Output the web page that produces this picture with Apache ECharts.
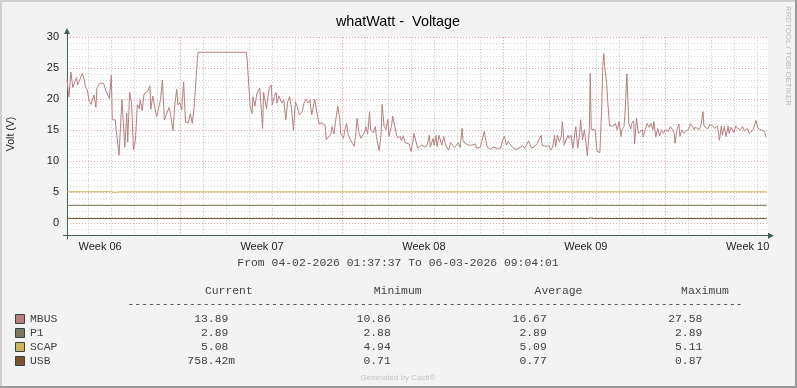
<!DOCTYPE html>
<html><head><meta charset="utf-8">
<script src="https://cdn.jsdelivr.net/npm/echarts@6/dist/echarts.min.js"></script>
<style>html,body{margin:0;padding:0;background:#f3f3f3}#c{width:797px;height:388px}</style>
</head><body><div id="c"></div>
<script>
// ---- data (hours since 04-02-2026 01:37:37) ----
const mbusHours = [0,2,4,6,8,10,11,13,16,18,19,21,23,25,28,30,31,34,38,40,43,44,46,47,50,51,54,57,59,60,62,63,65,67,69,71,73,75,76,78,80,82,84,86,87,89,91,93,95,97,99,101,103,106,107,110,112,114,115,117,119,121,123,126,128,130,132,134,135,136,
186,187,189,190,192,193,195,197,199,200,203,204,207,208,210,212,213,215,217,218,220,222,223,225,227,229,231,233,235,237,239,241,244,246,248,250,252,254,257,258,260,262,265,268,269,272,274,275,277,279,281,283,284,287,288,290,292,294,296,298,300,301,303,305,307,309,310,312,314,315,318,320,321,324,326,327,329,331,333,334,337,338,340,342,343,346,347,349,351,353,355,357,359,360,362,364,366,368,370,372,374,376,377,380,381,383,384,386,388,389,391,393,395,396,398,400,402,404,406,408,410,411,413,415,417,420,422,424,425,427,429,431,433,436,438,440,442,444,446,448,450,452,454,456,458,460,462,464,466,468,
470,473,475,477,479,480,482,484,486,488,489,492,493,495,497,498,500,502,504,506,507,509,511,513,514,516,518,520,521,523,525,526,528,530,532,533,535,537,539,540,542,543,544,546,548,550,553,555,556,557,558,560,561,563,565,567,569,571,573,575,576,578,579,581,583,585,586,588,589,591,593,595,597,598,600,602,604,606,608,609,611,613,615,617,619,621,623,624,626,628,630,631,633,635,636,638,640,642,644,645,647,649,651,652,654,656,658,660,661,663,665,667,668,670,672,673,675,677,679,680,682,684,686,687,689,691,692,694,696,698,699,701,703,705,706,708,710,712,713,715,717,718,720,722,724,725,726];
const mbusVolts = [23.2,20.4,24.4,21.9,22.8,23.5,22.3,22.3,24.2,23.1,22.1,21.5,19.7,19.2,20.7,18.7,21.8,22.6,22.6,21.5,20.5,20.1,23.9,16.7,16.7,15.1,11.0,20.0,20.2,12.3,17.8,13.1,21.1,19.4,11.8,13.4,19.1,18.5,19.9,18.2,20.9,20.7,21.3,22.2,18.4,20.5,20.5,17.2,17.2,19.9,23.1,16.7,16.8,18.7,18.0,14.9,19.4,21.6,19.1,19.5,18.3,22.8,16.3,16.2,17.7,16.1,18.8,23.5,25.8,27.58,
27.58,26.3,26.0,18.9,17.7,20.4,18.9,20.9,21.2,21.8,15.3,21.1,18.5,19.9,21.8,22.3,19.1,20.4,21.1,19.4,20.5,20.2,19.4,19.9,16.7,19.6,20.4,18.5,15.0,19.6,18.8,17.5,18.0,19.4,20.0,19.4,19.9,17.5,20.0,19.9,17.2,16.0,16.2,15.7,13.5,14.0,14.5,15.6,14.4,16.8,18.9,16.9,14.5,13.7,14.8,16.1,14.2,14.0,12.9,12.4,14.8,16.9,14.6,13.7,14.2,14.8,15.6,14.4,18.0,15.1,14.6,15.6,14.0,11.7,14.5,19.2,15.7,15.1,16.8,14.0,15.9,17.3,17.3,14.2,13.8,14.0,13.3,14.1,13.0,13.0,12.8,11.6,13.2,14.5,14.2,12.1,11.8,12.6,12.8,12.3,12.8,14.2,12.3,13.7,12.6,14.2,12.4,14.2,14.2,12.6,14.0,12.6,12.6,11.8,13.0,12.6,12.2,12.6,13.0,12.2,15.3,13.4,12.9,12.8,12.6,12.6,12.4,12.8,12.1,11.9,12.3,12.6,14.8,12.3,12.1,11.9,12.3,12.4,12.1,12.4,12.1,13.4,14.0,12.6,13.2,13.0,12.3,12.1,11.9,12.1,
12.2,12.5,12.1,12.4,13.3,13.3,12.1,11.9,12.5,12.9,12.8,14.2,12.6,12.9,12.4,12.1,12.5,11.8,12.3,14.2,12.3,14.2,13.2,14.1,16.4,12.6,13.5,14.2,13.7,14.2,12.1,12.4,15.6,12.1,14.5,16.7,13.5,15.1,15.1,10.86,15.1,24.2,15.1,15.1,15.1,11.6,11.4,19.4,25.3,27.4,25.3,22.6,19.9,15.7,15.9,15.7,16.1,15.1,16.4,14.0,15.1,15.6,17.6,24.1,16.1,15.2,16.1,16.5,12.8,16.9,14.5,14.8,15.1,13.9,15.1,16.1,15.5,16.1,15.1,16.4,13.9,15.3,14.1,15.1,14.5,15.1,15.3,14.8,15.6,15.2,14.6,12.9,15.1,16.0,14.0,15.1,14.5,14.9,14.6,15.1,16.1,15.6,15.1,15.5,15.3,15.1,15.9,18.0,15.7,16.0,15.2,15.9,15.6,15.7,15.3,15.1,15.7,13.4,15.7,14.2,15.6,14.0,15.7,14.5,15.5,15.3,14.6,15.7,15.3,15.1,15.1,15.6,14.9,14.8,15.3,14.5,14.8,15.1,15.2,16.6,15.3,15.3,15.1,15.2,14.8,14.0,13.89];
const p1Hours = [0, 726];
const p1Volts = [2.89, 2.89];
const scapHours = [0, 46, 48, 50, 52, 54, 56, 726];
const scapVolts = [5.09, 5.09, 4.96, 4.98, 4.94, 5.07, 5.09, 5.08];
const usbHours = [0, 540, 543, 546, 630, 634, 638, 726];
const usbVolts = [0.77, 0.77, 0.87, 0.77, 0.77, 0.82, 0.77, 0.758];

const seriesNames = ['MBUS', 'P1', 'SCAP', 'USB'];
const curVals = ['13.89 ', '2.89 ', '5.08 ', '758.42m'];
const minVals = ['10.86 ', '2.88 ', '4.94 ', '0.71 '];
const avgVals = ['16.67 ', '2.89 ', '5.09 ', '0.77 '];
const maxVals = ['27.58 ', '2.89 ', '5.11 ', '0.87 '];
const colHeaders = ['Current', 'Minimum', 'Average', 'Maximum'];
const weekLabels = ['Week 06', 'Week 07', 'Week 08', 'Week 09', 'Week 10'];
const yMin = -2, yMax = 30;
const titleText = 'whatWatt -  Voltage';
const rangeText = 'From 04-02-2026 01:37:37 To 06-03-2026 09:04:01';

// ---- layout / style ----
const colors = ['#B88080', '#7C7A5A', '#CCB65A', '#7E5332'];
const startOffsetH = 1 + 37/60 + 37/3600;          // 01:37:37
const spanH = 720 + (9 + 4/60 + 1/3600) - startOffsetH;
const firstMidnight = 24 - startOffsetH;            // Thu 05-02 00:00
const firstWeekLabel = firstMidnight + 12;          // Thu 05-02 12:00 (mid ISO week 06)
const L = 67, R = 768, T = 37.3, B = 235.7, H = 388, W = 797;
const ppH = (R - L) / spanH;
// day-grid placement as measured on the reference
const dayLinePx = 87.8, dayPx = 23.09;
const dayGridMax = firstMidnight + 24 * (R - dayLinePx) / dayPx;
const G = '#c2c2c2', RD = '#e29090';
const sans = '"Liberation Sans", Arial, sans-serif';
const mono = '"Liberation Mono", "Courier New", monospace';

function pair(h, v) { return h.map((x, i) => [x, v[i]]); }
const gridBase = { right: W - R, top: T, bottom: H - B, show: false, outerBoundsMode: 'none', containLabel: false };
const hiddenX = (gi, mn, mx) => ({ type: 'value', gridIndex: gi, min: mn, max: mx, show: false });
const hiddenY = (gi) => ({ type: 'value', gridIndex: gi, min: 0, max: 1, show: false });

const option = {
  animation: false,
  backgroundColor: '#f3f3f3',
  grid: [
    Object.assign({}, gridBase, { left: L }),
    Object.assign({}, gridBase, { left: dayLinePx }),
    Object.assign({}, gridBase, { left: L + firstWeekLabel * ppH }),
    { left: L, right: W - R, top: 31, bottom: H - 239, show: false, outerBoundsMode: 'none' },
    { left: 63.5, right: W - 771, top: 100, bottom: H - B, show: false, outerBoundsMode: 'none' }
  ],
  xAxis: [
    hiddenX(0, 0, spanH),
    { type: 'value', gridIndex: 1, min: firstMidnight, max: dayGridMax, interval: 24,
      axisLine: { show: false }, axisLabel: { show: false },
      axisTick: { show: false },
      splitLine: { show: true, showMaxLine: false,
        lineStyle: { color: [G, G, G, G, RD, G, G], width: 1, type: [1, 2] } } },
    { type: 'value', gridIndex: 2, min: firstWeekLabel, max: spanH, interval: 168,
      axisLine: { show: false }, axisTick: { show: false }, splitLine: { show: false },
      axisLabel: { show: true, showMaxLabel: false, margin: 6, color: '#222',
        fontFamily: sans, fontSize: 11,
        formatter: (v) => { const i = Math.round((v - firstWeekLabel) / 168); return weekLabels[i] || ''; } } },
    { type: 'value', gridIndex: 3, min: 0, max: 1, show: false },
    { type: 'value', gridIndex: 4, min: 0, max: 1,
      axisLine: { show: true, symbol: ['none', 'triangle'], symbolSize: [6, 6],
        lineStyle: { color: '#3f5f57', width: 1 } },
      axisTick: { show: false }, axisLabel: { show: false }, splitLine: { show: false } }
  ],
  yAxis: [
    { type: 'value', gridIndex: 0, min: yMin, max: yMax, interval: 1,
      axisLine: { show: false }, axisTick: { show: false },
      axisLabel: { margin: 8, color: '#222', fontFamily: sans, fontSize: 11,
        formatter: (v) => (Math.round(v) % 5 === 0 ? String(Math.round(v)) : '') },
      splitLine: { show: true, lineStyle: { color: ['#d4d4d4', '#d4d4d4', '#e8a2a2', '#d4d4d4', '#d4d4d4'], width: 1, type: [1, 2] } } },
    hiddenY(1), hiddenY(2),
    { type: 'value', gridIndex: 3, min: 0, max: 1,
      axisLine: { show: true, symbol: ['none', 'triangle'], symbolSize: [6, 6],
        lineStyle: { color: '#3f5f57', width: 1 } },
      axisTick: { show: false }, axisLabel: { show: false }, splitLine: { show: false } },
    hiddenY(4)
  ],
  series: [
    { name: seriesNames[0], data: pair(mbusHours, mbusVolts) },
    { name: seriesNames[1], data: pair(p1Hours, p1Volts) },
    { name: seriesNames[2], data: pair(scapHours, scapVolts) },
    { name: seriesNames[3], data: pair(usbHours, usbVolts) }
  ].map((s, i) => Object.assign(s, { type: 'line', xAxisIndex: 0, yAxisIndex: 0, showSymbol: false,
      symbol: 'none', lineStyle: { width: 1, color: colors[i] }, itemStyle: { color: colors[i] }, z: 3 })),
  graphic: []
};

const g = option.graphic;
// plot background
g.push({ type: 'rect', z: -10, shape: { x: L, y: T, width: R - L, height: B - T }, style: { fill: '#ffffff' } });
// frame
g.push({ type: 'rect', shape: { x: 0, y: 0, width: W, height: 2 }, style: { fill: '#cfcfcf' } });
g.push({ type: 'rect', shape: { x: 0, y: 0, width: 2, height: H }, style: { fill: '#cfcfcf' } });
g.push({ type: 'rect', shape: { x: 0, y: H - 2, width: W, height: 2 }, style: { fill: '#9a9a9a' } });
g.push({ type: 'rect', shape: { x: W - 2, y: 0, width: 2, height: H }, style: { fill: '#9a9a9a' } });
// title & axis title
g.push({ type: 'text', x: 398, y: 22.5, style: { text: titleText, font: '14.4px ' + sans, fill: '#000', align: 'center', verticalAlign: 'middle' } });
g.push({ type: 'text', x: 11.5, y: 134, rotation: Math.PI / 2, style: { text: 'Volt (V)', font: '10.5px ' + sans, fill: '#222', align: 'center', verticalAlign: 'middle' } });
g.push({ type: 'text', x: 788.5, y: 56, rotation: -Math.PI / 2, style: { text: 'RRDTOOL / TOBI OETIKER', font: '7.9px ' + sans, fill: '#b9b9b9', align: 'center', verticalAlign: 'middle' } });
g.push({ type: 'text', x: 398, y: 263, style: { text: rangeText, font: '11.4px ' + mono, fill: '#444', align: 'center', verticalAlign: 'middle' } });
// legend table
const colCenters = [228.8, 397.7, 558.5, 705];
const colRight = [235.2, 397.6, 553.6, 709.2];
colHeaders.forEach((t, i) => g.push({ type: 'text', x: colCenters[i], y: 291, style: { text: t, font: '11.4px ' + mono, fill: '#444', align: 'center', verticalAlign: 'middle' } }));
g.push({ type: 'text', x: 127.5, y: 303.5, style: { text: '-'.repeat(90), font: '11.4px ' + mono, fill: '#444', align: 'left', verticalAlign: 'middle' } });
const cols = [curVals, minVals, avgVals, maxVals];
seriesNames.forEach((n, r) => {
  const yc = 319 + r * 14;
  g.push({ type: 'rect', shape: { x: 15.5, y: yc - 4.5, width: 9, height: 9 }, style: { fill: colors[r], stroke: '#2c4a40', lineWidth: 1 } });
  g.push({ type: 'text', x: 30, y: yc, style: { text: n, font: '11.4px ' + mono, fill: '#444', align: 'left', verticalAlign: 'middle' } });
  cols.forEach((c, i) => g.push({ type: 'text', x: colRight[i], y: yc, style: { text: c[r], font: '11.4px ' + mono, fill: '#444', align: 'right', verticalAlign: 'middle' } }));
});
g.push({ type: 'text', x: 398, y: 377.5, style: { text: 'Generated by Cacti®', font: '8px ' + sans, fill: '#c4c4c4', align: 'center', verticalAlign: 'middle' } });

const chart = echarts.init(document.getElementById('c'), null, { renderer: 'canvas' });
chart.setOption(option);
</script></body></html>
